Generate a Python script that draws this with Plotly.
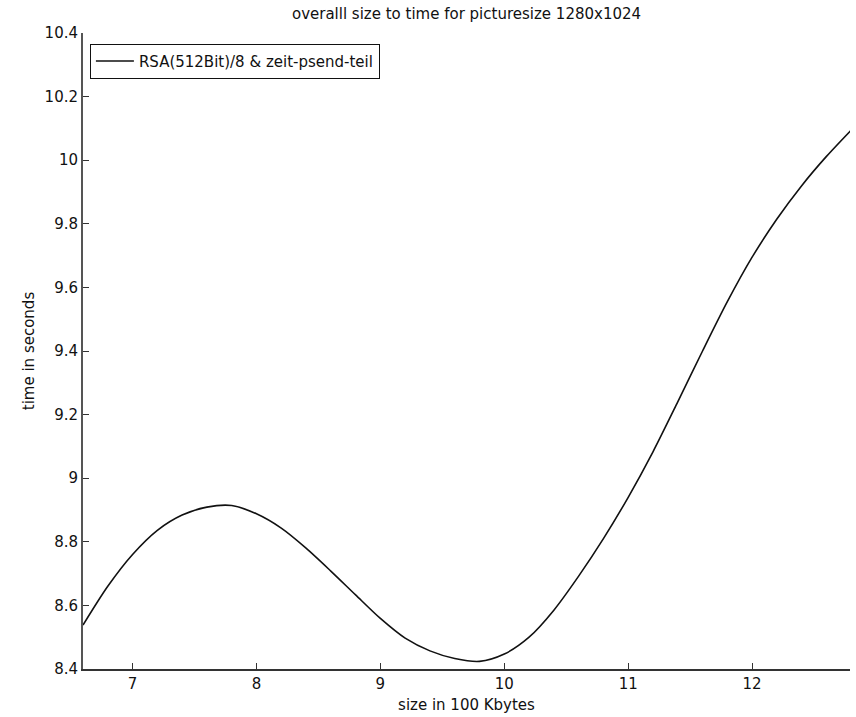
import plotly.graph_objects as go

# data
size_100kb = [6.6, 6.8, 7.0, 7.2, 7.4, 7.6, 7.8, 8.0, 8.2, 8.4, 8.6, 8.8, 9.0, 9.2, 9.4,
              9.6, 9.8, 10.0, 10.2, 10.4, 10.6, 10.8, 11.0, 11.2, 11.4, 11.6, 11.8,
              12.0, 12.2, 12.4, 12.6, 12.8]
time_s = [8.538, 8.66, 8.76, 8.836, 8.884, 8.909, 8.914, 8.888, 8.843, 8.78, 8.708,
          8.633, 8.559, 8.497, 8.457, 8.433, 8.424, 8.447, 8.5, 8.585, 8.692, 8.81,
          8.94, 9.083, 9.24, 9.4, 9.555, 9.695, 9.815, 9.92, 10.012, 10.095]
x_ticks = [7, 8, 9, 10, 11, 12]
y_ticks = [8.4, 8.6, 8.8, 9.0, 9.2, 9.4, 9.6, 9.8, 10.0, 10.2, 10.4]
y_tick_text = ["8.4", "8.6", "8.8", "9", "9.2", "9.4", "9.6", "9.8", "10", "10.2", "10.4"]

FONT = "DejaVu Sans"

fig = go.Figure()
fig.add_trace(go.Scatter(
    x=size_100kb, y=time_s, mode="lines",
    line=dict(color="#111111", width=1.6, shape="spline", smoothing=0.8),
    name="RSA(512Bit)/8 & zeit-psend-teil",
))

fig.update_layout(
    width=856, height=717,
    margin=dict(l=83, r=6, t=33, b=48),
    paper_bgcolor="white", plot_bgcolor="white",
    font=dict(family=FONT, size=15, color="#111111"),
    title=dict(text="overalll size to time for picturesize 1280x1024",
               x=0.545, xanchor="center", y=0.981, yanchor="middle",
               font=dict(family=FONT, size=15, color="#111111")),
    showlegend=True,
    legend=dict(x=0.009, y=0.983, xanchor="left", yanchor="top",
                bgcolor="white", bordercolor="#111111", borderwidth=1,
                font=dict(family=FONT, size=15, color="#111111"),
                itemwidth=38, tracegroupgap=0),
    xaxis=dict(range=[6.6, 12.79], tickvals=x_ticks, ticks="inside", ticklen=6,
               tickcolor="#333333", showline=True, linecolor="#333333", linewidth=1.5,
               showgrid=False, zeroline=False,
               title=dict(text="size in 100 Kbytes", standoff=8,
                          font=dict(family=FONT, size=15)),
               tickfont=dict(family=FONT, size=15)),
    yaxis=dict(range=[8.4, 10.4], tickvals=y_ticks, ticktext=y_tick_text,
               ticks="inside", ticklen=6, tickcolor="#333333",
               showline=True, linecolor="#555555", linewidth=2,
               showgrid=False, zeroline=False,
               title=dict(text="time in seconds", standoff=6,
                          font=dict(family=FONT, size=15)),
               tickfont=dict(family=FONT, size=15)),
)

fig.write_html("out.html")
